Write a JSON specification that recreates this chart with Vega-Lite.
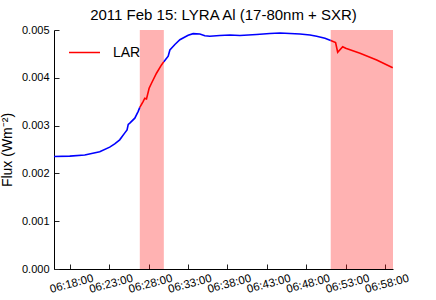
{
  "$schema": "https://vega.github.io/schema/vega-lite/v6.json",
  "width": 339,
  "height": 239,
  "autosize": {"type": "none"},
  "padding": {"left": 54, "top": 30, "right": 43, "bottom": 31},
  "config": {"view": {"stroke": null}, "font": "Liberation Sans"},
  "title": {"text": "2011 Feb 15: LYRA Al (17-80nm + SXR)", "fontSize": 15, "fontWeight": "normal", "color": "black", "offset": 4, "dy": 3, "font": "Liberation Sans"},
  "datasets": {
    "spans": [
      {"start": "2011-02-15T06:26:53Z", "end": "2011-02-15T06:29:56Z"},
      {"start": "2011-02-15T06:51:06Z", "end": "2011-02-15T06:59:00Z"}
    ],
    "flux": [
      {"time": "2011-02-15T06:16:00Z", "flux": 0.002353, "label": "main", "seg": "b1"},
      {"time": "2011-02-15T06:18:00Z", "flux": 0.002361, "label": "main", "seg": "b1"},
      {"time": "2011-02-15T06:19:54Z", "flux": 0.002384, "label": "main", "seg": "b1"},
      {"time": "2011-02-15T06:21:48Z", "flux": 0.002451, "label": "main", "seg": "b1"},
      {"time": "2011-02-15T06:23:04Z", "flux": 0.002549, "label": "main", "seg": "b1"},
      {"time": "2011-02-15T06:23:42Z", "flux": 0.002618, "label": "main", "seg": "b1"},
      {"time": "2011-02-15T06:24:20Z", "flux": 0.002702, "label": "main", "seg": "b1"},
      {"time": "2011-02-15T06:24:59Z", "flux": 0.002848, "label": "main", "seg": "b1"},
      {"time": "2011-02-15T06:25:16Z", "flux": 0.002911, "label": "main", "seg": "b1"},
      {"time": "2011-02-15T06:25:25Z", "flux": 0.003025, "label": "main", "seg": "b1"},
      {"time": "2011-02-15T06:25:37Z", "flux": 0.003051, "label": "main", "seg": "b1"},
      {"time": "2011-02-15T06:26:15Z", "flux": 0.003155, "label": "main", "seg": "b1"},
      {"time": "2011-02-15T06:26:40Z", "flux": 0.003293, "label": "main", "seg": "b1"},
      {"time": "2011-02-15T06:26:53Z", "flux": 0.003381, "label": "main", "seg": "b1"},
      {"time": "2011-02-15T06:26:53Z", "flux": 0.003381, "label": "LAR", "seg": "r1"},
      {"time": "2011-02-15T06:27:18Z", "flux": 0.003502, "label": "LAR", "seg": "r1"},
      {"time": "2011-02-15T06:27:31Z", "flux": 0.003573, "label": "LAR", "seg": "r1"},
      {"time": "2011-02-15T06:27:44Z", "flux": 0.003558, "label": "LAR", "seg": "r1"},
      {"time": "2011-02-15T06:28:04Z", "flux": 0.003782, "label": "LAR", "seg": "r1"},
      {"time": "2011-02-15T06:28:22Z", "flux": 0.003886, "label": "LAR", "seg": "r1"},
      {"time": "2011-02-15T06:29:00Z", "flux": 0.004095, "label": "LAR", "seg": "r1"},
      {"time": "2011-02-15T06:29:38Z", "flux": 0.004269, "label": "LAR", "seg": "r1"},
      {"time": "2011-02-15T06:29:56Z", "flux": 0.004338, "label": "LAR", "seg": "r1"},
      {"time": "2011-02-15T06:29:56Z", "flux": 0.004338, "label": "main", "seg": "b2"},
      {"time": "2011-02-15T06:30:29Z", "flux": 0.004453, "label": "main", "seg": "b2"},
      {"time": "2011-02-15T06:30:42Z", "flux": 0.004582, "label": "main", "seg": "b2"},
      {"time": "2011-02-15T06:31:20Z", "flux": 0.004697, "label": "main", "seg": "b2"},
      {"time": "2011-02-15T06:31:58Z", "flux": 0.004797, "label": "main", "seg": "b2"},
      {"time": "2011-02-15T06:33:01Z", "flux": 0.004889, "label": "main", "seg": "b2"},
      {"time": "2011-02-15T06:33:39Z", "flux": 0.004923, "label": "main", "seg": "b2"},
      {"time": "2011-02-15T06:34:30Z", "flux": 0.004916, "label": "main", "seg": "b2"},
      {"time": "2011-02-15T06:35:08Z", "flux": 0.004881, "label": "main", "seg": "b2"},
      {"time": "2011-02-15T06:35:46Z", "flux": 0.004868, "label": "main", "seg": "b2"},
      {"time": "2011-02-15T06:37:02Z", "flux": 0.004885, "label": "main", "seg": "b2"},
      {"time": "2011-02-15T06:38:19Z", "flux": 0.004896, "label": "main", "seg": "b2"},
      {"time": "2011-02-15T06:39:35Z", "flux": 0.004885, "label": "main", "seg": "b2"},
      {"time": "2011-02-15T06:41:42Z", "flux": 0.004906, "label": "main", "seg": "b2"},
      {"time": "2011-02-15T06:43:23Z", "flux": 0.004927, "label": "main", "seg": "b2"},
      {"time": "2011-02-15T06:44:40Z", "flux": 0.004937, "label": "main", "seg": "b2"},
      {"time": "2011-02-15T06:45:56Z", "flux": 0.004927, "label": "main", "seg": "b2"},
      {"time": "2011-02-15T06:47:12Z", "flux": 0.004916, "label": "main", "seg": "b2"},
      {"time": "2011-02-15T06:48:28Z", "flux": 0.004896, "label": "main", "seg": "b2"},
      {"time": "2011-02-15T06:49:19Z", "flux": 0.004868, "label": "main", "seg": "b2"},
      {"time": "2011-02-15T06:50:22Z", "flux": 0.004827, "label": "main", "seg": "b2"},
      {"time": "2011-02-15T06:51:06Z", "flux": 0.004781, "label": "main", "seg": "b2"},
      {"time": "2011-02-15T06:51:06Z", "flux": 0.004781, "label": "LAR", "seg": "r2"},
      {"time": "2011-02-15T06:51:43Z", "flux": 0.004739, "label": "LAR", "seg": "r2"},
      {"time": "2011-02-15T06:51:59Z", "flux": 0.004534, "label": "LAR", "seg": "r2"},
      {"time": "2011-02-15T06:52:37Z", "flux": 0.004651, "label": "LAR", "seg": "r2"},
      {"time": "2011-02-15T06:53:00Z", "flux": 0.004618, "label": "LAR", "seg": "r2"},
      {"time": "2011-02-15T06:54:49Z", "flux": 0.004513, "label": "LAR", "seg": "r2"},
      {"time": "2011-02-15T06:56:56Z", "flux": 0.004373, "label": "LAR", "seg": "r2"},
      {"time": "2011-02-15T06:58:58Z", "flux": 0.004212, "label": "LAR", "seg": "r2"}
    ]
  },
  "layer": [
    {
      "data": {"name": "spans"},
      "mark": {"type": "rect", "color": "#ff0000", "opacity": 0.3},
      "encoding": {
        "x": {"field": "start", "type": "temporal", "title": null},
        "x2": {"field": "end"}
      }
    },
    {
      "data": {"name": "flux"},
      "mark": {"type": "line", "strokeWidth": 1.6},
      "encoding": {
        "x": {
          "field": "time", "type": "temporal", "title": null,
          "scale": {"type": "utc", "domain": [
            {"year": 2011, "month": 2, "date": 15, "hours": 6, "minutes": 16, "utc": true},
            {"year": 2011, "month": 2, "date": 15, "hours": 6, "minutes": 59, "utc": true}
          ]},
          "axis": {
            "values": [
              {"year": 2011, "month": 2, "date": 15, "hours": 6, "minutes": 18, "utc": true},
              {"year": 2011, "month": 2, "date": 15, "hours": 6, "minutes": 23, "utc": true},
              {"year": 2011, "month": 2, "date": 15, "hours": 6, "minutes": 28, "utc": true},
              {"year": 2011, "month": 2, "date": 15, "hours": 6, "minutes": 33, "utc": true},
              {"year": 2011, "month": 2, "date": 15, "hours": 6, "minutes": 38, "utc": true},
              {"year": 2011, "month": 2, "date": 15, "hours": 6, "minutes": 43, "utc": true},
              {"year": 2011, "month": 2, "date": 15, "hours": 6, "minutes": 48, "utc": true},
              {"year": 2011, "month": 2, "date": 15, "hours": 6, "minutes": 53, "utc": true},
              {"year": 2011, "month": 2, "date": 15, "hours": 6, "minutes": 58, "utc": true}
            ],
            "format": "%H:%M:%S",
            "grid": false,
            "labelAngle": -15,
            "labelAlign": "center",
            "labelBaseline": "top",
            "labelFontSize": 11.5,
            "labelColor": "black",
            "labelPadding": 14,
            "tickSize": -5,
            "tickColor": "#222222",
            "domainColor": "black",
            "labelFlush": false,
            "labelOverlap": false
          }
        },
        "y": {
          "field": "flux", "type": "quantitative",
          "title": "Flux (Wm⁻²)",
          "scale": {"domain": [0, 0.005], "nice": false},
          "axis": {
            "values": [0, 0.001, 0.002, 0.003, 0.004, 0.005],
            "format": ".3f",
            "grid": false,
            "labelFontSize": 11,
            "labelColor": "black",
            "labelPadding": 10,
            "tickSize": -5,
            "tickColor": "#222222",
            "domainColor": "black",
            "labelFlush": false,
            "titleFontSize": 14,
            "titleFontWeight": "normal",
            "titleColor": "black",
            "titlePadding": 7
          }
        },
        "color": {
          "field": "label", "type": "nominal",
          "scale": {"domain": ["LAR", "main"], "range": ["#ff0000", "#0000ff"]},
          "legend": {
            "orient": "none", "legendX": 14, "legendY": 6,
            "title": null, "values": ["LAR"],
            "symbolType": "stroke", "symbolSize": 961, "symbolStrokeWidth": 1.5,
            "labelFontSize": 14, "labelOffset": 12, "labelColor": "black",
            "padding": 0
          }
        },
        "detail": {"field": "seg"}
      }
    }
  ]
}
